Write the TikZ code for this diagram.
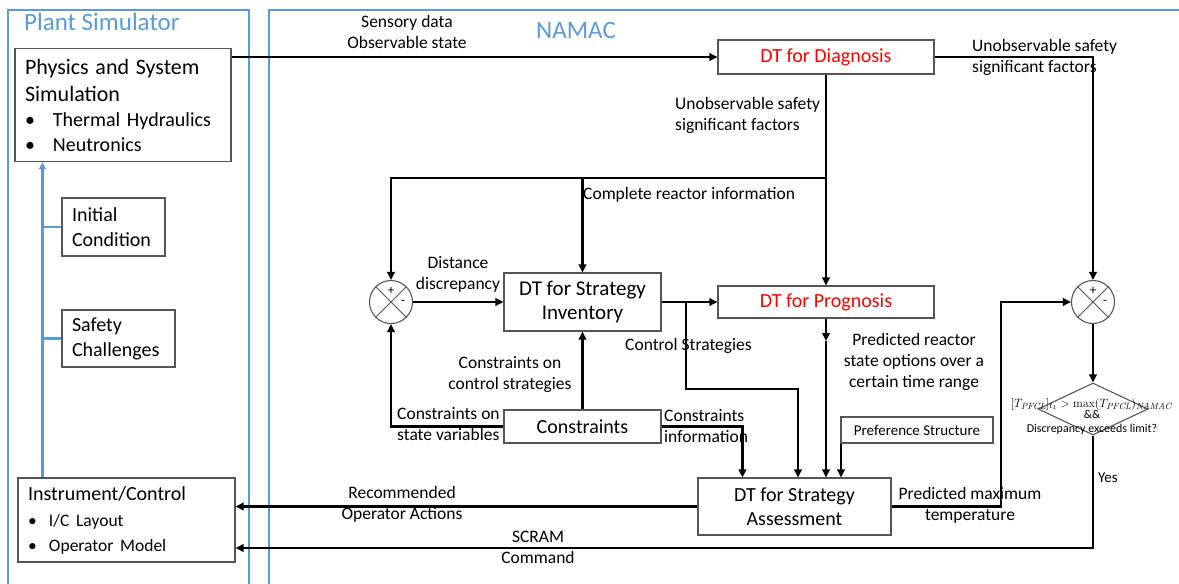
\documentclass[tikz,border=0pt]{standalone}
\usepackage[no-math]{fontspec}
\setmainfont{Carlito}
\usetikzlibrary{arrows.meta,shapes.geometric}
\definecolor{frameblue}{HTML}{5B9BD5}
\definecolor{boxgray}{HTML}{555555}
\begin{document}
\begin{tikzpicture}[x=1pt,y=-1pt,
  box/.style={draw=boxgray,line width=1.1pt,fill=white,inner sep=0pt,align=center,font=\fontsize{20}{24}\selectfont},
  lbox/.style={box,align=left,inner xsep=10pt,font=\fontsize{20}{25}\selectfont},
  conn/.style={line width=2.8pt,-{Triangle[length=8pt,width=7.5pt]}},
  plain/.style={line width=2.8pt},
  lbl/.style={inner sep=0pt,align=center,font=\fontsize{17.5}{21}\selectfont},
  frame/.style={draw=frameblue,line width=2.6pt},
  bluel/.style={draw=frameblue,line width=2.6pt},
  blueconn/.style={bluel,-{Triangle[length=7pt,width=6.5pt]}},
  sumnode/.style={circle,draw=boxgray,line width=1.1pt,minimum size=43pt,inner sep=0pt,fill=white},
  sign/.style={inner sep=0pt,font=\fontsize{13}{13}\selectfont}
]
\useasboundingbox (0,0) rectangle (1179,584);
% frames
\draw[frame] (8,600) -- (8,10) -- (249,10) -- (249,600);
\draw[frame] (269,600) -- (269,10) -- (1200,10);
\node[anchor=west,inner sep=0pt,text=frameblue,font=\fontsize{25}{30}\selectfont] (pstitle) at (24,22) {Plant Simulator};
\node[inner sep=0pt,text=frameblue,font=\fontsize{25}{30}\selectfont] (namactitle) at (576,30) {NAMAC};

% Plant simulator boxes
\node[lbox,text width=196pt,minimum height=113pt] (phys) at (123,105)
 {{\fontsize{22}{27}\selectfont Physics and System}\\[2pt]
  {\fontsize{22}{27}\selectfont Simulation}\\[0pt]
  \makebox[28pt][l]{\textbullet}Thermal Hydraulics\\[0pt]
  \makebox[28pt][l]{\textbullet}Neutronics};
\node[lbox,text width=83pt,minimum height=58pt] (ic) at (113.5,227) {Initial\\Condition};
\node[lbox,text width=93pt,minimum height=57pt] (sc) at (118.5,338.5) {Safety\\Challenges};
\node[lbox,text width=197pt,minimum height=84pt] (instr) at (126.5,520)
 {Instrument/Control\\[1pt]
  {\fontsize{17.5}{25}\selectfont\makebox[21pt][l]{\textbullet}I/C Layout}\\[0pt]
  {\fontsize{17.5}{25}\selectfont\makebox[21pt][l]{\textbullet}Operator Model}};

% NAMAC boxes
\node[box,text=red,minimum width=216pt,minimum height=34pt] (diag) at (826,57) {DT for Diagnosis};
\node[box,text=red,minimum width=216pt,minimum height=32pt] (prog) at (826,302) {DT for Prognosis};
\node[box,font=\fontsize{21}{24}\selectfont,minimum width=157pt,minimum height=58pt] (inv) at (582.5,302) {DT for Strategy\\Inventory};
\node[box,minimum width=157pt,minimum height=33pt] (cons) at (582.5,426.5) {Constraints};
\node[box,font=\fontsize{15}{18}\selectfont,minimum width=152pt,minimum height=26pt] (pref) at (917,430) {Preference Structure};
\node[box,minimum width=193pt,minimum height=57pt] (assess) at (794.5,506.5) {DT for Strategy\\Assessment};

% summation nodes
\node[sumnode] (sum1) at (391,302) {};
\draw[boxgray,line width=1pt] (sum1.north west) -- (sum1.south east) (sum1.north east) -- (sum1.south west);
\node[sign] (s1p) at ([yshift=11pt]sum1.center) {+};
\node[sign] (s1m) at ([xshift=12pt]sum1.center) {-};
\node[sumnode] (sum2) at (1093,302) {};
\draw[boxgray,line width=1pt] (sum2.north west) -- (sum2.south east) (sum2.north east) -- (sum2.south west);
\node[sign] (s2p) at ([yshift=11pt]sum2.center) {+};
\node[sign] (s2m) at ([xshift=12pt]sum2.center) {-};

% decision diamond
\node[diamond,draw=boxgray,line width=1.1pt,minimum width=110pt,minimum height=52pt,inner sep=0pt] (dia) at (1093,409) {};
\node[inner sep=0pt,align=center,font=\fontsize{12}{13.5}\selectfont] (diatext) at (1092,416)
 {{\fontsize{12.5}{14}\selectfont$[T_{\mathit{PFCL}}]_{t_1} > \max(T_{\mathit{PFCL}})_{\mathit{NAMAC}}$}\\[-2pt] \&\&\\ Discrepancy exceeds limit?};

% coordinates
\coordinate (J) at (826,178);
\coordinate (K) at (686,302);
\coordinate (K2) at (798,389);
\coordinate (M) at (826,341);
\coordinate (P) at (1001,302);
\coordinate (Q) at (1093,548);

% connectors
\draw[conn] (phys.east |- diag.west) -- (diag.west);
\draw[conn] (diag.east) -| (sum2.north);
\draw[plain] (diag.south) -- (J);
\draw[conn] (J) -- (prog.north);
\draw[conn] (J) -| (sum1.north);
\draw[conn] (inv.north |- J) -- (inv.north);
\draw[conn] (sum1.east) -- (inv.west);
\draw[conn] (inv.east) -- (prog.west);
\draw[conn] (K) |- (K2) -- (K2 |- assess.north);
\draw[conn] (prog.south) -- (M);
\draw[conn] (M) -- (M |- assess.north);
\draw[conn] (cons.north) -- (inv.south);
\draw[conn] (cons.west) -| (sum1.south);
\draw[conn] (cons.east) -| ([xshift=45pt]assess.north west);
\draw[conn] ([xshift=-76pt]pref.south) -- ([xshift=-76pt]pref.south |- assess.north);
\draw[conn] (assess.west) -- (assess.west -| instr.east);
\draw[conn] (assess.east) -| (P) -- (sum2.west);
\draw[conn] (sum2.south) -- (dia.north);
\draw[conn] (dia.south) -- (Q) -- (Q -| instr.east);

% blue connectors
\draw[blueconn] ([xshift=25pt]instr.north west) -- ([xshift=25pt]instr.north west |- phys.south);
\draw[bluel] (43,227) -- (ic.west);
\draw[bluel] (43,338.5) -- (sc.west);

% labels
\node[lbl] (l1) at (407,32) {Sensory data\\Observable state};
\node[lbl,anchor=west,align=left] (l2) at (972,57.5) {Unobservable safety\\significant factors};
\node[lbl,anchor=west,align=left] (l3) at (675,115.5) {Unobservable safety\\significant factors};
\node[lbl,anchor=west] (l4) at (583,195) {Complete reactor information};
\node[lbl] (l5) at (458,274.5) {Distance\\discrepancy};
\node[lbl,anchor=west] (l6) at (625,346) {Control Strategies};
\node[lbl] (l7) at (914,362) {Predicted reactor\\state options over a\\certain time range};
\node[lbl] (l8) at (510,374) {Constraints on\\control strategies};
\node[lbl,anchor=west,align=left] (l9) at (397,424.5) {Constraints on\\state variables};
\node[lbl,anchor=west,align=left] (l10) at (664,426.5) {Constraints\\information};
\node[lbl] (l11) at (402,504.5) {Recommended\\Operator Actions};
\node[lbl] (l12) at (970,505) {Predicted maximum\\temperature};
\node[lbl,anchor=west,font=\fontsize{15}{18}\selectfont] (l13) at (1098,478) {Yes};
\node[lbl] (l14) at (538,547) {SCRAM\\Command};
\end{tikzpicture}
\end{document}
